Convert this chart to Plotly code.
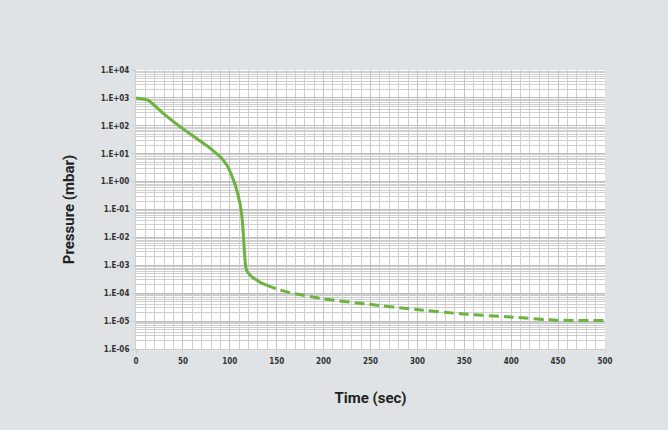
import plotly.graph_objects as go

# Pump-down curve
time_solid = [0, 13, 29, 47, 64.6, 75, 82.4, 89.5, 96.6, 100, 102.5, 105, 107, 109, 111.5, 113.6,
              115, 116.2, 117.3, 119, 121.5, 125, 128.6, 133, 139]
pressure_solid = [1000, 830, 280, 93, 35, 20, 12.6, 7.9, 4.0, 2.4, 1.5, 0.9, 0.56, 0.3, 0.126, 0.032,
                  0.0062, 0.00155, 0.00078, 0.00056, 0.00045, 0.00035, 0.0003, 0.00024, 0.000195]

time_dashed = [139, 153.5, 164, 200, 249, 299, 349, 399, 448.5, 500]
pressure_dashed = [0.000195, 0.00013, 0.000105, 0.000062, 0.00004, 0.000026, 0.000018, 0.000014, 0.0000108, 0.0000105]

y_tickvals = [1e4, 1e3, 1e2, 1e1, 1e0, 1e-1, 1e-2, 1e-3, 1e-4, 1e-5, 1e-6]
y_ticktext = ["1.E+04", "1.E+03", "1.E+02", "1.E+01", "1.E+00", "1.E-01",
              "1.E-02", "1.E-03", "1.E-04", "1.E-05", "1.E-06"]
x_tickvals = [0, 50, 100, 150, 200, 250, 300, 350, 400, 450, 500]

green = "#6cb33f"
grid = "#cfcfcf"
bg = "#dfe3e6"
tickfont = dict(family="DejaVu Sans Condensed", size=8, color="#333333")

fig = go.Figure()
fig.add_trace(go.Scatter(x=time_solid, y=pressure_solid, mode="lines",
                         line=dict(color=green, width=3, shape="spline", smoothing=0.3),
                         showlegend=False, hoverinfo="skip"))
fig.add_trace(go.Scatter(x=time_dashed, y=pressure_dashed, mode="lines",
                         line=dict(color=green, width=3, dash="10px,5px", shape="spline", smoothing=0.5),
                         showlegend=False, hoverinfo="skip"))

fig.update_layout(
    width=668, height=430,
    paper_bgcolor=bg, plot_bgcolor="white",
    margin=dict(l=136, r=63, t=70, b=81),
    xaxis=dict(
        range=[0, 500], tickvals=x_tickvals, ticktext=["<b>%d</b>" % v for v in x_tickvals],
        tickfont=tickfont, showgrid=True, gridcolor="#c4c4c4", gridwidth=1,
        minor=dict(dtick=10, showgrid=True, gridcolor=grid, gridwidth=1),
        ticks="outside", ticklen=4, tickcolor=grid,
        showline=True, linecolor=grid, zeroline=False,
        title=dict(text="<b>Time (sec)</b>", font=dict(family="Roboto", size=15, color="#222222"), standoff=27),
    ),
    yaxis=dict(
        type="log", range=[-6, 4], tickvals=y_tickvals, ticktext=["<b>%s</b>" % t for t in y_ticktext],
        tickfont=tickfont, showgrid=True, gridcolor="#bdbdbd", gridwidth=1,
        minor=dict(dtick="D1", showgrid=True, gridcolor=grid, gridwidth=1),
        ticks="outside", ticklen=4, tickcolor=grid,
        showline=True, linecolor=grid, zeroline=False,
        title=dict(text="<b>Pressure (mbar)</b>", font=dict(family="Roboto", size=15, color="#222222"), standoff=22),
    ),
)

fig.write_html("out.html", config={"displayModeBar": False},
               post_script="document.body.style.margin='0';document.body.style.background='%s';" % bg)
